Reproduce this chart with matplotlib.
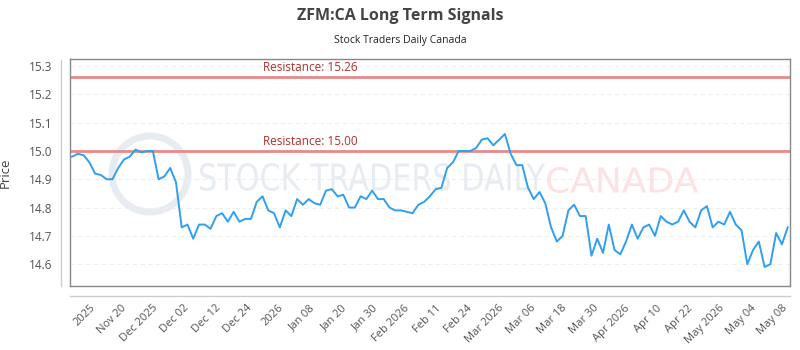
import matplotlib.pyplot as plt
from matplotlib.lines import Line2D
from matplotlib.patches import Circle, PathPatch
from matplotlib.textpath import TextPath
from matplotlib.font_manager import FontProperties
from matplotlib.transforms import Affine2D
import numpy as np

# price series
prices = [
    14.98, 14.99, 14.985, 14.96, 14.92, 14.915, 14.90, 14.90, 14.94, 14.97,
    14.98, 15.005, 14.995, 15.00, 15.00, 14.90, 14.91, 14.94, 14.89, 14.73,
    14.74, 14.69, 14.74, 14.74, 14.725, 14.77, 14.78, 14.75, 14.785, 14.75,
    14.76, 14.76, 14.82, 14.84, 14.79, 14.78, 14.73, 14.79, 14.77, 14.83,
    14.81, 14.83, 14.815, 14.81, 14.86, 14.865, 14.84, 14.845, 14.80, 14.80,
    14.84, 14.83, 14.86, 14.83, 14.83, 14.80, 14.79, 14.79, 14.785, 14.78,
    14.81, 14.82, 14.84, 14.865, 14.87, 14.94, 14.96, 15.00, 15.00, 15.00,
    15.01, 15.04, 15.045, 15.02, 15.04, 15.06, 14.99, 14.95, 14.95, 14.87,
    14.83, 14.855, 14.815, 14.73, 14.68, 14.70, 14.79, 14.81, 14.77, 14.77,
    14.63, 14.69, 14.64, 14.74, 14.65, 14.635, 14.68, 14.74, 14.69, 14.73,
    14.74, 14.70, 14.77, 14.75, 14.74, 14.75, 14.79, 14.75, 14.73, 14.79,
    14.805, 14.73, 14.75, 14.74, 14.785, 14.74, 14.72, 14.60, 14.65, 14.68,
    14.59, 14.60, 14.71, 14.67, 14.73,
]

tick_labels = ["2025", "Nov 20", "Dec 2025", "Dec 02", "Dec 12", "Dec 24", "2026",
               "Jan 08", "Jan 20", "Jan 30", "Feb 2026", "Feb 11", "Feb 24",
               "Mar 2026", "Mar 06", "Mar 18", "Mar 30", "Apr 2026", "Apr 10",
               "Apr 22", "May 2026", "May 04", "May 08"]

resistance = [15.26, 15.00]
y_ticks = [14.6, 14.7, 14.8, 14.9, 15.0, 15.1, 15.2, 15.3]

plt.rcParams['font.family'] = ['Open Sans', 'DejaVu Sans']

DPI = 100
fig = plt.figure(figsize=(8, 3.5), dpi=DPI)
ax = fig.add_axes([0.0879, 0.183, 0.8996, 0.6476])

x = np.arange(len(prices))

# pixel coords (from top-left) -> inches for the watermark pieces
px = Affine2D().scale(1 / DPI, -1 / DPI).translate(0, 3.5) + fig.dpi_scale_trans


def stamp(text, left, top, width, height, color):
    path = TextPath((0, 0), text, size=10, prop=FontProperties(family='DejaVu Sans'))
    ext = path.get_extents()
    t = (Affine2D().translate(-ext.x0, -ext.y1)
         .scale(width / ext.width, -height / ext.height)
         .translate(left, top))
    ax.add_patch(PathPatch(t.transform_path(path), transform=px, fc=color,
                           ec='none', zorder=0, clip_on=False))


stamp("STOCK TRADERS DAILY", 200, 163, 345, 28, '#e7ecf2')
stamp("CANADA", 547, 167, 151, 26, '#fde2e4')
ax.add_patch(Circle((150, 174), 38, transform=px, fill=False, ec='#e7ecf2',
                    lw=5, zorder=0, clip_on=False))

ax.grid(axis='y', color='#eeeeee', linestyle=(0, (4, 3)), linewidth=0.8)
ax.set_axisbelow(True)

for r in resistance:
    ax.axhline(r, color='#e88a8a', linewidth=2, zorder=2)
    ax.text(33, r + 0.012, f"Resistance: {r:.2f}", color='#b03030',
            fontsize=8.5, va='bottom', ha='left', zorder=3)

ax.plot(x, prices, color='#2f9ff0', linewidth=1.4, zorder=4)

ax.set_xlim(-0.3, len(prices) - 0.6)
ax.set_ylim(14.523, 15.324)
ax.set_yticks(y_ticks)
ax.set_yticklabels([f"{v:.1f}" for v in y_ticks])
ax.set_xticks(np.linspace(3, 123, len(tick_labels)))
ax.set_xticklabels(tick_labels, rotation=45, ha='right', rotation_mode='anchor')
ax.tick_params(axis='both', length=0, labelsize=8, colors='#555555')
ax.tick_params(axis='y', pad=13, labelsize=8.5)
ax.tick_params(axis='x', pad=12)

for s in ax.spines.values():
    s.set_color('#888888')
    s.set_linewidth(1)

# offset axis lines outside the frame
fig.add_artist(Line2D([60.5 / 800, 60.5 / 800], [1 - 60 / 350, 1 - 286 / 350],
                      color='#cccccc', lw=1))
fig.add_artist(Line2D([70 / 800, 790 / 800], [1 - 296 / 350, 1 - 296 / 350],
                      color='#cccccc', lw=1))

ax.set_ylabel("Price", fontsize=9.5, color='#444444', labelpad=12)
fig.text(0.5, 1 - 16 / 350, "ZFM:CA Long Term Signals", ha='center', va='center',
         fontsize=11.5, fontweight='bold', color='#444444')
fig.text(0.5, 1 - 40 / 350, "Stock Traders Daily Canada", ha='center', va='center',
         fontsize=7.5, color='#222222')

plt.savefig("out.png", dpi=DPI)
